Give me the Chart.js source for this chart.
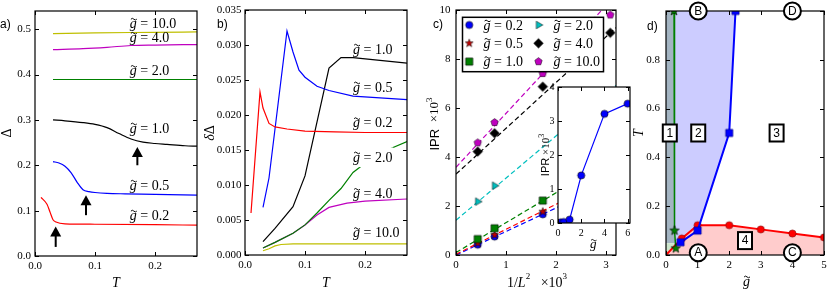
<!DOCTYPE html>
<html>
<head>
<meta charset="utf-8">
<script src="https://cdn.jsdelivr.net/npm/chart.js@4.4.0/dist/chart.umd.min.js"></script>
<style>
  html, body { margin: 0; padding: 0; background: #fff; }
  #wrap { position: relative; width: 830px; height: 294px; overflow: hidden; }
  #wrap canvas { position: absolute; left: 0; top: 0; }
</style>
</head>
<body>
<div id="wrap">
  <canvas id="ca" width="830" height="294"></canvas>
  <canvas id="cb" width="830" height="294"></canvas>
  <canvas id="cc" width="830" height="294"></canvas>
  <canvas id="cin" width="830" height="294"></canvas>
  <canvas id="cd" width="830" height="294"></canvas>
</div>
<script>
// ---- data -----------------------------------------------------------
const gLabels = ['0.2', '0.5', '1.0', '2.0', '4.0', '10.0'];
const gColors = ['#ff0000', '#0000ff', '#000000', '#008000', '#bf00bf', '#bfbf00'];

// a) gap vs T
const aT02 = [0.01, 0.02, 0.025, 0.03, 0.035, 0.05, 0.1, 0.2, 0.27];
const aD02 = [0.129, 0.114, 0.097, 0.080, 0.075, 0.071, 0.070, 0.069, 0.068];
const aT05 = [0.03, 0.04, 0.05, 0.06, 0.07, 0.08, 0.09, 0.10, 0.12, 0.15, 0.20, 0.27];
const aD05 = [0.208, 0.205, 0.198, 0.184, 0.163, 0.146, 0.142, 0.140, 0.138, 0.137, 0.136, 0.134];
const aT1 = [0.03, 0.05, 0.08, 0.10, 0.12, 0.14, 0.16, 0.18, 0.20, 0.22, 0.25, 0.27];
const aD1 = [0.300, 0.298, 0.294, 0.290, 0.283, 0.270, 0.258, 0.251, 0.248, 0.246, 0.243, 0.242];
const aT2 = [0.03, 0.10, 0.20, 0.27];
const aD2 = [0.389, 0.389, 0.389, 0.389];
const aT4 = [0.03, 0.08, 0.12, 0.16, 0.20, 0.27];
const aD4 = [0.455, 0.457, 0.460, 0.464, 0.465, 0.466];
const aT10 = [0.03, 0.10, 0.20, 0.27];
const aD10 = [0.490, 0.492, 0.493, 0.494];
const aLabelT = 0.158;
const aLabelD = [0.090, 0.156, 0.282, 0.409, 0.482, 0.513];
const aArrowT = [0.0345, 0.085, 0.1706];
const aArrowLo = [0.020, 0.090, 0.200];
const aArrowHi = [0.065, 0.134, 0.240];

// b) delta-gap vs T
const bT02 = [0.01, 0.025, 0.03, 0.04, 0.05, 0.07, 0.10, 0.15, 0.20, 0.27];
const bV02 = [0.0060, 0.0233, 0.0210, 0.0188, 0.0183, 0.0180, 0.0177, 0.0176, 0.0175, 0.0175];
const bT05 = [0.03, 0.04, 0.07, 0.08, 0.09, 0.10, 0.12, 0.14, 0.18, 0.27];
const bV05 = [0.0068, 0.0110, 0.0320, 0.0290, 0.0264, 0.0254, 0.0241, 0.0235, 0.0227, 0.0222];
const bT1 = [0.03, 0.05, 0.08, 0.10, 0.14, 0.16, 0.18, 0.27];
const bV1 = [0.0019, 0.0038, 0.0069, 0.0113, 0.0267, 0.0282, 0.0282, 0.0274];
const bT2 = [0.03, 0.05, 0.08, 0.10, 0.12, 0.14, 0.16, 0.18, 0.20, 0.24, 0.27];
const bV2 = [0.0010, 0.0018, 0.0031, 0.0043, 0.0060, 0.0078, 0.0095, 0.0118, 0.0131, 0.0151, 0.0162];
const bT4 = [0.03, 0.05, 0.08, 0.10, 0.12, 0.14, 0.17, 0.20, 0.27];
const bV4 = [0.0010, 0.0018, 0.0031, 0.0043, 0.0057, 0.0068, 0.0074, 0.0077, 0.0080];
const bT10 = [0.03, 0.04, 0.05, 0.06, 0.08, 0.27];
const bV10 = [0.0006, 0.0009, 0.0013, 0.0015, 0.0016, 0.0016];
const bLabelT = 0.18;
const bLabelV = [0.0189, 0.0240, 0.0294, 0.0140, 0.0088, 0.0032];

// c) IPR vs 1/L^2
const cInvL2 = [0.434, 0.772, 1.736, 3.086];
const cIpr02 = [0.42, 0.75, 1.66];
const cIpr05 = [0.48, 0.82, 1.77];
const cIpr1 = [0.65, 1.09, 2.22];
const cIpr2 = [2.18, 2.83];
const cIpr4 = [4.22, 4.97, 6.87, 9.07];
const cIpr10 = [4.58, 5.41, 7.41, 9.80];
const cFitX = [0, 3.2];
const cFit02 = [0.0, 3.07];
const cFit05 = [0.03, 3.29];
const cFit1 = [0.10, 4.00];
const cFit2 = [1.42, 6.92];
const cFit4 = [3.30, 9.28];
const cFit10 = [3.58, 10.62];

// c inset) IPR vs g
const insG = [0.2, 0.5, 1.0, 2.0, 4.0, 6.0];
const insIpr = [0.02, 0.03, 0.10, 1.40, 3.21, 3.51];

// d) phase diagram
const dRedG = [0, 0.5, 1, 2, 3, 4, 5];
const dRedT = [0, 0.068, 0.122, 0.122, 0.105, 0.088, 0.072];
const dBlueG = [0.46, 1.0, 2.0, 2.2];
const dBlueT = [0.052, 0.10, 0.50, 1.0];
const dGreenG = [0.255, 0.27, 0.31];
const dGreenT = [1.0, 0.10, 0.027];
const dSlateG = [0, 0.255, 0.27, 0.29, 0];
const dSlateT = [1.0, 1.0, 0.10, 0.048, 0.048];
const dPaleG = [0, 0.30, 0.30, 0];
const dPaleT = [0, 0, 0.048, 0.048];
const dLavG = [0.255, 0.27, 0.30, 0.5, 1.0, 1.06, 2.0, 2.2];
const dLavT = [1.0, 0.10, 0.041, 0.068, 0.122, 0.124, 0.50, 1.0];
const dBoxText = ['1', '2', '3', '4'];
const dBoxG = [0.12, 1.02, 3.5, 2.5];
const dBoxT = [0.5, 0.5, 0.5, 0.059];
const dCircText = ['A', 'B', 'C', 'D'];
const dCircG = [1.02, 1.02, 4.0, 4.0];
const dCircT = [0.0095, 1.0, 0.0095, 1.0];

// ---- helpers --------------------------------------------------------
const W = 830, H = 294;
const SERIF = '"Liberation Serif", "DejaVu Serif", serif';
const SANS = '"Liberation Sans", "DejaVu Sans", sans-serif';

const xy = (xs, ys) => ys.map((y, i) => ({ x: xs[i], y }));

function marker(shape, r, fill, stroke, lw) {
    const s = Math.ceil(2 * r + 2 * lw + 2);
    const c = document.createElement('canvas');
    c.width = c.height = s;
    const g = c.getContext('2d');
    const m = s / 2;
    g.beginPath();
    if (shape === 'circle') {
        g.arc(m, m, r, 0, 2 * Math.PI);
    } else if (shape === 'square') {
        g.rect(m - r, m - r, 2 * r, 2 * r);
    } else if (shape === 'diamond') {
        g.moveTo(m, m - r); g.lineTo(m + r, m); g.lineTo(m, m + r); g.lineTo(m - r, m); g.closePath();
    } else if (shape === 'tri') {
        g.moveTo(m + r, m); g.lineTo(m - r * 0.5, m - r * 0.87); g.lineTo(m - r * 0.5, m + r * 0.87); g.closePath();
    } else {
        const n = 5, star = shape === 'star';
        for (let i = 0; i < (star ? 2 * n : n); i++) {
            const ang = -Math.PI / 2 + i * Math.PI * (star ? 1 : 2) / n;
            const rr = star && i % 2 ? r * 0.42 : r;
            const px = m + rr * Math.cos(ang), py = m + rr * Math.sin(ang);
            i ? g.lineTo(px, py) : g.moveTo(px, py);
        }
        g.closePath();
    }
    g.fillStyle = fill; g.fill();
    g.lineWidth = lw; g.strokeStyle = stroke; g.stroke();
    return c;
}

function tilde(ctx, cx, ty, size) {
    const tw = size * 0.42, a = size * 0.06;
    const x0 = cx - tw / 2;
    ctx.beginPath();
    ctx.moveTo(x0, ty);
    ctx.quadraticCurveTo(x0 + tw / 4, ty - 2 * a, x0 + tw / 2, ty);
    ctx.quadraticCurveTo(x0 + 3 * tw / 4, ty + 2 * a, x0 + tw, ty);
    ctx.lineWidth = size * 0.07;
    ctx.strokeStyle = '#000';
    ctx.stroke();
}

// italic g with tilde, then " = value"
function gLabel(ctx, x, yc, val, size, bg) {
    ctx.save();
    ctx.textAlign = 'left';
    ctx.textBaseline = 'alphabetic';
    const base = yc + size * 0.33;
    ctx.font = `italic ${size}px ${SERIF}`;
    const gw = ctx.measureText('g').width;
    ctx.font = `${size}px ${SERIF}`;
    const rest = val === null ? '' : ' = ' + val;
    const rw = ctx.measureText(rest).width;
    if (bg) {
        ctx.fillStyle = '#fff';
        ctx.fillRect(x - 1, yc - size * 0.68, gw + rw + 2, size * 1.4);
    }
    ctx.fillStyle = '#000';
    ctx.font = `italic ${size}px ${SERIF}`;
    ctx.fillText('g', x, base);
    tilde(ctx, x + gw * 0.58, base - size * 0.62, size);
    ctx.font = `${size}px ${SERIF}`;
    ctx.fillText(rest, x + gw, base);
    ctx.restore();
}

// text built from pieces, centred at (cx, cy), optionally rotated
function rich(ctx, parts, cx, cy, rot) {
    ctx.save();
    ctx.translate(cx, cy);
    if (rot) ctx.rotate(-Math.PI / 2);
    ctx.textBaseline = 'middle';
    ctx.textAlign = 'left';
    ctx.fillStyle = '#000';
    let total = 0;
    parts.forEach(p => { ctx.font = p.f; p.w = ctx.measureText(p.t).width; total += p.w; });
    let x = -total / 2;
    parts.forEach(p => { ctx.font = p.f; ctx.fillText(p.t, x, p.dy || 0); x += p.w; });
    ctx.restore();
}

function panelLabel(ctx, t, x, y) {
    ctx.save();
    ctx.font = `12px ${SANS}`;
    ctx.fillStyle = '#000';
    ctx.textBaseline = 'middle';
    ctx.fillText(t, x, y);
    ctx.restore();
}

const frame = {
    id: 'frame',
    beforeDraw(chart, args, opts) {
        if (!opts.bg) return;
        const { ctx, chartArea: a } = chart;
        ctx.save();
        ctx.fillStyle = opts.bg;
        ctx.fillRect(a.left, a.top, a.right - a.left, a.bottom - a.top);
        ctx.restore();
    },
    afterDatasetsDraw(chart) {
        const { ctx, chartArea: a, scales: { x, y } } = chart;
        ctx.save();
        ctx.strokeStyle = '#000';
        ctx.lineWidth = 1;
        ctx.beginPath();
        x.ticks.forEach(t => {
            const p = Math.round(x.getPixelForValue(t.value)) + 0.5;
            ctx.moveTo(p, a.bottom); ctx.lineTo(p, a.bottom - 4);
            ctx.moveTo(p, a.top); ctx.lineTo(p, a.top + 4);
        });
        y.ticks.forEach(t => {
            const p = Math.round(y.getPixelForValue(t.value)) + 0.5;
            ctx.moveTo(a.left, p); ctx.lineTo(a.left + 4, p);
            ctx.moveTo(a.right, p); ctx.lineTo(a.right - 4, p);
        });
        ctx.stroke();
        ctx.lineWidth = 1.2;
        ctx.strokeRect(a.left, a.top, a.right - a.left, a.bottom - a.top);
        ctx.restore();
    }
};

function axis(o, isY, thick) {
    return {
        type: 'linear', min: o.min, max: o.max,
        afterBuildTicks: s => { s.ticks = o.ticks.map(v => ({ value: v })); },
        afterFit: s => {
            if (isY) s.width = thick; else s.height = thick;
            s.paddingLeft = s.paddingRight = s.paddingTop = s.paddingBottom = 0;
        },
        grid: { display: false, drawTicks: false, tickLength: 0 },
        border: { display: false },
        ticks: {
            callback: v => o.labels ? o.labels(v) : v.toFixed(o.dec),
            padding: o.pad, color: '#000', autoSkip: false, maxRotation: 0,
            font: { family: SERIF, size: o.size || 11 }
        }
    };
}

function makeChart(id, area, xo, yo, datasets, extra, bg) {
    return new Chart(document.getElementById(id), {
        type: 'scatter',
        data: { datasets },
        options: {
            responsive: false, animation: false, devicePixelRatio: 1, events: [],
            layout: { padding: { left: 0, top: area.t, right: W - area.r, bottom: 0 } },
            plugins: { legend: { display: false }, tooltip: { enabled: false }, frame: { bg } },
            scales: { x: axis(xo, false, H - area.b), y: axis(yo, true, area.l) }
        },
        plugins: [frame, extra]
    });
}

function curve(xs, ys, color, w, extra) {
    return Object.assign({
        data: xy(xs, ys), showLine: true, borderColor: color, borderWidth: w || 1.2,
        pointRadius: 0, fill: false
    }, extra || {});
}

// ---- a) ---------------------------------------------------------------
const aSeries = [[aT02, aD02], [aT05, aD05], [aT1, aD1], [aT2, aD2], [aT4, aD4], [aT10, aD10]];
makeChart('ca', { l: 35, t: 11, r: 197, b: 256 },
    { min: 0, max: 0.27, ticks: [0, 0.1, 0.2], dec: 1, pad: 4 },
    { min: 0, max: 0.54, ticks: [0, 0.1, 0.2, 0.3, 0.4, 0.5], dec: 1, pad: 4 },
    aSeries.map((s, i) => curve(s[0], s[1], gColors[i], 1.2, { cubicInterpolationMode: 'monotone' })),
    {
        id: 'aExtra',
        afterDraw(chart) {
            const { ctx, scales: { x, y } } = chart;
            gLabels.forEach((g, i) => gLabel(ctx, x.getPixelForValue(aLabelT), y.getPixelForValue(aLabelD[i]), g, 14));
            ctx.save();
            ctx.fillStyle = '#000';
            aArrowT.forEach((t, i) => {
                const px = x.getPixelForValue(t), lo = y.getPixelForValue(aArrowLo[i]), hi = y.getPixelForValue(aArrowHi[i]);
                ctx.fillRect(px - 1, hi + 8, 2, lo - hi - 8);
                ctx.beginPath();
                ctx.moveTo(px, hi); ctx.lineTo(px + 5.5, hi + 10); ctx.lineTo(px - 5.5, hi + 10); ctx.closePath();
                ctx.fill();
            });
            ctx.restore();
            rich(ctx, [{ t: 'Δ', f: `14px ${SERIF}` }], 7, 133, true);
            rich(ctx, [{ t: 'T', f: `italic 14px ${SERIF}` }], 116, 283, false);
            panelLabel(ctx, 'a)', 0, 25);
        }
    });

// ---- b) ---------------------------------------------------------------
const bSeries = [[bT02, bV02], [bT05, bV05], [bT1, bV1], [bT2, bV2], [bT4, bV4], [bT10, bV10]];
makeChart('cb', { l: 245, t: 10, r: 407, b: 255 },
    { min: 0, max: 0.27, ticks: [0, 0.1, 0.2], dec: 1, pad: 4 },
    { min: 0, max: 0.035, ticks: [0, 0.005, 0.01, 0.015, 0.02, 0.025, 0.03, 0.035], dec: 3, pad: 3.5 },
    bSeries.map((s, i) => curve(s[0], s[1], gColors[i], 1.2)),
    {
        id: 'bExtra',
        afterDraw(chart) {
            const { ctx, scales: { x, y } } = chart;
            gLabels.forEach((g, i) => gLabel(ctx, x.getPixelForValue(bLabelT), y.getPixelForValue(bLabelV[i]), g, 14, i === 3));
            rich(ctx, [{ t: 'δ', f: `italic 14px ${SERIF}` }, { t: 'Δ', f: `14px ${SERIF}` }], 210, 133, true);
            rich(ctx, [{ t: 'T', f: `italic 14px ${SERIF}` }], 326, 283, false);
            panelLabel(ctx, 'b)', 217, 25);
        }
    });

// ---- c) ---------------------------------------------------------------
const cMarks = [
    marker('circle', 3.6, '#0000ff', '#000', 0.6),
    marker('star', 4.2, '#bf0000', '#000', 0.5),
    marker('square', 3.6, '#008000', '#000', 0.6),
    marker('tri', 4.4, '#00bfbf', '#000', 0.5),
    marker('diamond', 4.8, '#000000', '#000', 0.5),
    marker('pent', 3.9, '#bf00bf', '#000', 0.5)
];
const cLineColors = ['#0000ff', '#ff0000', '#008000', '#00bfbf', '#000000', '#bf00bf'];
const cPts = [cIpr02, cIpr05, cIpr1, cIpr2, cIpr4, cIpr10];
const cFits = [cFit02, cFit05, cFit1, cFit2, cFit4, cFit10];
const cSets = [];
cFits.forEach((f, i) => cSets.push(curve(cFitX, f, cLineColors[i], 1.2, { borderDash: [5, 3] })));
cPts.forEach((p, i) => cSets.push({ data: xy(cInvL2, p), pointStyle: cMarks[i], pointRadius: 4, showLine: false }));
cSets.reverse();
makeChart('cc', { l: 456, t: 10, r: 616, b: 255 },
    { min: 0, max: 3.2, ticks: [0, 1, 2, 3], dec: 0, pad: 4 },
    { min: 0, max: 10, ticks: [0, 2, 4, 6, 8, 10], dec: 0, pad: 5.5 },
    cSets,
    {
        id: 'cExtra',
        afterDraw(chart) {
            const { ctx, chartArea: a } = chart;
            const bx = a.left + 6.5, by = a.top + 7.3, bw = 141, bh = 54.4;
            ctx.save();
            ctx.fillStyle = '#fff';
            ctx.fillRect(bx, by, bw, bh);
            ctx.strokeStyle = '#000';
            ctx.lineWidth = 1.5;
            ctx.strokeRect(bx, by, bw, bh);
            ctx.restore();
            gLabels.forEach((g, i) => {
                const col = i < 3 ? 0 : 1, row = i % 3;
                const ry = by + 7.7 + row * 18.3;
                const mx = bx + (col ? 76 : 6.7);
                const m = cMarks[i];
                ctx.drawImage(m, mx - m.width / 2, ry - m.height / 2);
                gLabel(ctx, bx + (col ? 91 : 21), ry, g, 14);
            });
            rich(ctx, [{ t: 'IPR', f: `13px ${SANS}` }, { t: '  ×10', f: `13px ${SERIF}` }, { t: '3', f: `9px ${SERIF}`, dy: -5 }], 435, 124, true);
            rich(ctx, [{ t: '1/', f: `14px ${SERIF}` }, { t: 'L', f: `italic 14px ${SERIF}` }, { t: '2', f: `9px ${SERIF}`, dy: -6 },
                { t: '   ×10', f: `14px ${SERIF}` }, { t: '3', f: `9px ${SERIF}`, dy: -6 }], 537, 283, false);
            panelLabel(ctx, 'c)', 433, 25);
        }
    });

// ---- c inset ----------------------------------------------------------
makeChart('cin', { l: 558, t: 87, r: 630, b: 223 },
    { min: 0, max: 6.2, ticks: [0, 2, 4, 6], dec: 0, pad: 4, size: 10 },
    { min: 0, max: 4, ticks: [0, 1, 2, 3, 4], dec: 0, pad: 3.5, size: 10 },
    [curve(insG, insIpr, '#0000ff', 1.2, { pointStyle: marker('circle', 3.6, '#0000ff', '#000', 0.6), pointRadius: 4 })],
    {
        id: 'inExtra',
        afterDraw(chart) {
            const { ctx } = chart;
            rich(ctx, [{ t: 'IPR', f: `11px ${SANS}` }, { t: ' ×10', f: `11px ${SERIF}` }, { t: '3', f: `8px ${SERIF}`, dy: -4 }], 546, 155, true);
            gLabel(ctx, 590, 244, null, 13);
        }
    }, '#ffffff');

// ---- d) ---------------------------------------------------------------
const dRedMark = marker('circle', 3.6, '#ff0000', '#800000', 0.6);
const dBlueMark = marker('square', 3.6, '#0000ff', '#000080', 0.6);
const dGreenMark = marker('star', 5, '#008000', '#000', 0.6);
function poly(xs, ys, color) {
    return { data: xy(xs, ys), showLine: true, borderWidth: 0, borderColor: color, backgroundColor: color, pointRadius: 0, fill: 'shape' };
}
makeChart('cd', { l: 666, t: 11, r: 828, b: 255 },
    { min: 0, max: 5, ticks: [0, 1, 2, 3, 4, 5], dec: 0, pad: 4 },
    { min: 0, max: 1, ticks: [0, 0.2, 0.4, 0.6, 0.8, 1.0], labels: v => v < 0.95 ? v.toFixed(1) : '', pad: 6 },
    [
        curve(dBlueG, dBlueT, '#0000ff', 2, { pointStyle: dBlueMark, pointRadius: 4 }),
        curve(dGreenG, dGreenT, '#008000', 1.5, { pointStyle: dGreenMark, pointRadius: 4 }),
        curve(dRedG, dRedT, '#ff0000', 2, { pointStyle: dRedMark, pointRadius: [0, 4, 4, 4, 4, 4, 4], fill: 'origin', backgroundColor: '#ffcccc' }),
        poly(dLavG, dLavT, '#ccccff'),
        poly(dPaleG, dPaleT, '#cce6cc'),
        poly(dSlateG, dSlateT, '#a3b4c2')
    ],
    {
        id: 'dExtra',
        afterDraw(chart) {
            const { ctx, scales: { x, y } } = chart;
            ctx.save();
            ctx.font = `12px ${SANS}`;
            ctx.textAlign = 'center';
            ctx.textBaseline = 'middle';
            dBoxText.forEach((t, i) => {
                const px = x.getPixelForValue(dBoxG[i]), py = y.getPixelForValue(dBoxT[i]);
                ctx.fillStyle = '#fff';
                ctx.fillRect(px - 7, py - 8.5, 14, 17);
                ctx.strokeStyle = '#000';
                ctx.lineWidth = 2;
                ctx.strokeRect(px - 7, py - 8.5, 14, 17);
                ctx.fillStyle = '#000';
                ctx.fillText(t, px, py + 0.5);
            });
            dCircText.forEach((t, i) => {
                const px = x.getPixelForValue(dCircG[i]), py = y.getPixelForValue(dCircT[i]);
                ctx.beginPath();
                ctx.arc(px, py, 8.5, 0, 2 * Math.PI);
                ctx.fillStyle = '#fff';
                ctx.fill();
                ctx.lineWidth = 2;
                ctx.strokeStyle = '#000';
                ctx.stroke();
                ctx.fillStyle = '#000';
                ctx.fillText(t, px, py + 0.5);
            });
            ctx.restore();
            rich(ctx, [{ t: 'T', f: `italic 14px ${SERIF}` }], 639, 133, true);
            gLabel(ctx, 743, 281, null, 14);
            panelLabel(ctx, 'd)', 647, 27);
        }
    });
</script>
</body>
</html>
